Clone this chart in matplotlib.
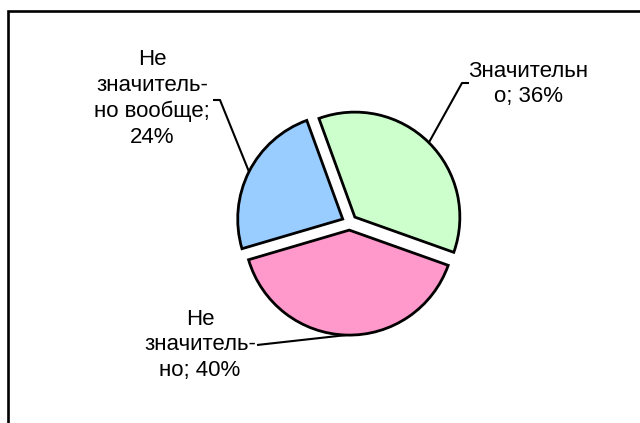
import numpy as np
import matplotlib
matplotlib.use("Agg")
import matplotlib.pyplot as plt
from matplotlib.patches import Rectangle

# slices in drawing order (clockwise from the top left)
labels = ["Значительн\nо; 36%", "Не\nзначитель-\nно; 40%", "Не\nзначитель-\nно вообще;\n24%"]
shares = [36, 40, 24]
colors = ["#CCFFCC", "#FF99CC", "#99CCFF"]

W, H = 640, 423
plt.rcParams["font.family"] = ["Liberation Sans", "DejaVu Sans"]

fig = plt.figure(figsize=(W / 100, H / 100), dpi=100)
ax = fig.add_axes([0, 0, 1, 1])

cx, cy, r = 349.5, H - 222.5, 105
gap = 7.6  # explode offset, in axis units (pixels here)
wedges, _ = ax.pie(shares, colors=colors, startangle=110, counterclock=False,
                   explode=[gap] * 3, center=(cx, cy), radius=r, frame=True,
                   wedgeprops=dict(edgecolor="black", linewidth=2.0))
ax.set_xlim(0, W)
ax.set_ylim(0, H)
ax.set_aspect("equal")
ax.axis("off")

# label text positions (centre) and where the leader line meets the text
text_pos = [(528, H - 84), (200, H - 345), (152, H - 98.5)]
elbows = [[(462, H - 83), (469, H - 83)],
          [(257, H - 345)],
          [(220, H - 100), (213, H - 100)]]

for w, lab, (tx, ty), elb in zip(wedges, labels, text_pos, elbows):
    mid = np.deg2rad((w.theta1 + w.theta2) / 2)
    ox, oy = w.center
    px, py = ox + r * np.cos(mid), oy + r * np.sin(mid)
    xs = [px] + [e[0] for e in elb]
    ys = [py] + [e[1] for e in elb]
    ax.plot(xs, ys, color="black", lw=1.5, solid_capstyle="butt")
    ax.text(tx, ty, lab, ha="center", va="center", fontsize=16,
            linespacing=1.3, multialignment="center")

# chart area border, running off the right and bottom edges
fig.patches.append(Rectangle((7.5 / W, -0.1), 1.2, (H - 11.5) / H + 0.1,
                             transform=fig.transFigure, fill=False,
                             edgecolor="black", linewidth=1.9))

fig.savefig("out.png", dpi=100)
